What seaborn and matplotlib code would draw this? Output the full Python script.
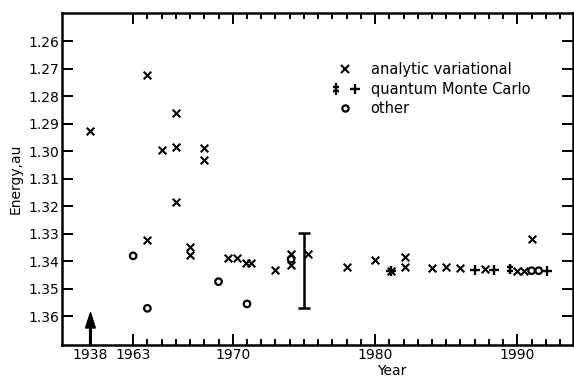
import numpy as np
import pandas as pd
import matplotlib
matplotlib.use("Agg")
import matplotlib.pyplot as plt
from matplotlib.path import Path
from matplotlib.lines import Line2D
from matplotlib.legend_handler import HandlerTuple
from matplotlib.ticker import FixedLocator
import seaborn as sns

# analytic variational results (year, energy)
av_year = [1938, 1964, 1964, 1965, 1966, 1966, 1966, 1967, 1967, 1968, 1968,
           1969.7, 1970.3, 1970.9, 1971.25, 1973, 1974.1, 1974.1, 1975.3, 1978,
           1980, 1981.1, 1982.1, 1982.1, 1984, 1985, 1986, 1987.7, 1990, 1990.5, 1991]
av_energy = [1.2926, 1.2722, 1.3323, 1.2995, 1.2862, 1.2983, 1.3184, 1.3348, 1.3378, 1.2989, 1.3032,
             1.3390, 1.3390, 1.3406, 1.3406, 1.3432, 1.3374, 1.3414, 1.3374, 1.3420,
             1.3396, 1.3435, 1.3386, 1.3423, 1.3426, 1.3420, 1.3426, 1.3430, 1.3435, 1.3435, 1.3321]

# quantum Monte Carlo (plain +)
qmc_year = [1981.1, 1987.05, 1988.35, 1992.1]
qmc_energy = [1.3435, 1.3432, 1.3432, 1.3435]

# quantum Monte Carlo with error bars (double cross)
qmcb_year = [1989.45]
qmcb_energy = [1.3430]

# other methods
other_year = [1963, 1964, 1969, 1971, 1974.1, 1991, 1991.5]
other_energy = [1.3381, 1.3572, 1.3475, 1.3556, 1.3393, 1.3435, 1.3435]

# range bar around 1975
range_year = 1975
range_lo, range_hi = 1.3299, 1.3572

# arrow at 1938
arrow_year = 1938
arrow_energy = 1.3588

# 1938 is drawn left of the axis break
break_year = 1938
break_pos = 1960.0


def xpos(years):
    return [break_pos if y == break_year else y for y in years]


av = pd.DataFrame({"Year": xpos(av_year), "Energy": av_energy})
qmc = pd.DataFrame({"Year": xpos(qmc_year), "Energy": qmc_energy})
qmcb = pd.DataFrame({"Year": xpos(qmcb_year), "Energy": qmcb_energy})
other = pd.DataFrame({"Year": xpos(other_year), "Energy": other_energy})

# double-cross marker
ddag = Path([(0, -1), (0, 1), (-0.55, 0.3), (0.55, 0.3), (-0.55, -0.3), (0.55, -0.3)],
            [Path.MOVETO, Path.LINETO, Path.MOVETO, Path.LINETO, Path.MOVETO, Path.LINETO])

sns.set_style("ticks")
plt.rcParams["font.family"] = ["DejaVu Sans"]
plt.rcParams["text.color"] = "black"
plt.rcParams["axes.labelcolor"] = "black"

fig = plt.figure(figsize=(5.74, 3.78), dpi=100)
ax = fig.add_axes([0.108, 0.087, 0.89, 0.879])

sns.scatterplot(data=av, x="Year", y="Energy", marker="x", color="black", s=30, linewidth=1.5, ax=ax)
sns.scatterplot(data=qmc, x="Year", y="Energy", marker="+", color="black", s=55, linewidth=1.7, ax=ax)
sns.scatterplot(data=qmcb, x="Year", y="Energy", marker=ddag, color="black", edgecolor="black",
                s=60, linewidth=1.7, ax=ax)
sns.scatterplot(data=other, x="Year", y="Energy", marker="o", facecolors="none", edgecolor="black",
                s=22, linewidth=1.6, ax=ax)

mid = (range_lo + range_hi) / 2
ax.errorbar([range_year], [mid], yerr=[[mid - range_lo], [range_hi - mid]], fmt="none",
            ecolor="black", elinewidth=1.8, capsize=4, capthick=1.8)

ax.annotate("", xy=(break_pos, arrow_energy), xytext=(break_pos, 1.3706),
            arrowprops=dict(facecolor="black", edgecolor="black", width=1.2, headwidth=7, headlength=11))

ax.set_xlim(1958.0, 1993.9)
ax.set_ylim(1.3706, 1.2496)

yt = np.round(np.arange(1.26, 1.3601, 0.01), 2)
ax.set_yticks(yt)
ax.set_yticklabels([f"{v:.2f}" for v in yt])
ax.set_xticks([break_pos, 1963, 1970, 1980, 1990])
ax.set_xticklabels(["1938", "1963", "1970", "1980", "1990"])
ax.xaxis.set_minor_locator(FixedLocator(np.arange(1963, 1994)))
ax.tick_params(axis="both", which="both", direction="in", top=True, right=True,
               labelsize=10, width=1.4, colors="black")
ax.tick_params(axis="both", which="major", length=8, pad=2)
ax.tick_params(axis="x", which="minor", length=4)
t0 = ax.xaxis.get_major_ticks()[0]
t0.tick1line.set_visible(False)
t0.tick2line.set_visible(False)

for sp in ax.spines.values():
    sp.set_linewidth(1.8)
    sp.set_color("black")

ax.set_xlabel("Year", fontsize=10)
ax.xaxis.set_label_coords(0.646, -0.058)
ax.set_ylabel("Energy,au", fontsize=10, labelpad=4)

h_av = Line2D([], [], linestyle="none", marker="x", color="black", markersize=5.5, markeredgewidth=1.5)
h_qb = Line2D([], [], linestyle="none", marker=ddag, color="black", markersize=8, markeredgewidth=1.7)
h_q = Line2D([], [], linestyle="none", marker="+", color="black", markersize=7.5, markeredgewidth=1.7)
h_o = Line2D([], [], linestyle="none", marker="o", markerfacecolor="none", markeredgecolor="black",
             markersize=4.5, markeredgewidth=1.6)
ax.legend([h_av, (h_qb, h_q), h_o], ["analytic variational", "quantum Monte Carlo", "other"],
          handler_map={tuple: HandlerTuple(ndivide=None, pad=0.3)},
          loc="upper left", bbox_to_anchor=(0.507, 0.874), frameon=False, fontsize=10.5,
          handlelength=2.3, handletextpad=0.6, labelspacing=0.32, borderpad=0)

fig.savefig("out.png", dpi=100)
